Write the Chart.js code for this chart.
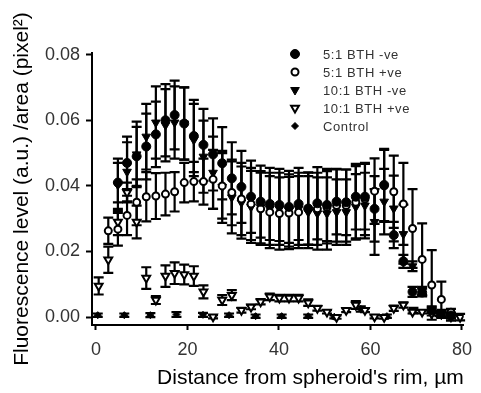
<!DOCTYPE html>
<html>
<head>
<meta charset="utf-8">
<script src="https://cdn.jsdelivr.net/npm/chart.js@4.4.1/dist/chart.umd.min.js"></script>
<style>
html, body { margin: 0; padding: 0; background: #fff; }
</style>
</head>
<body>
<canvas id="chart" width="481" height="393"></canvas>
<script>
// distance from the rim (µm) of the measured bins
const distance = [0.6, 2.7, 4.8, 6.8, 8.9, 11.0, 13.1, 15.2, 17.2, 19.3, 21.4, 23.5, 25.6, 27.6, 29.7, 31.8, 33.9, 36.0, 38.0, 40.1,
  42.2, 44.3, 46.4, 48.4, 50.5, 52.6, 54.7, 56.8, 58.8, 60.9, 63.0, 65.1, 67.2, 69.2, 71.3, 73.4, 75.5, 77.6, 79.6];

const bth5neg = [null, null, 0.041, 0.047, 0.049, 0.052, 0.0557, 0.060, 0.0616, 0.059, 0.0552, 0.0525, 0.0496, 0.0469, 0.0423, 0.0397, 0.0367, 0.0352, 0.0345, 0.0342,
  0.0336, 0.0345, 0.0331, 0.0347, 0.0342, 0.0352, 0.035, 0.0367, 0.0367, 0.033, 0.0403, 0.025, 0.017, 0.0077, 0.0075, 0.002, 0.001, 0.0005, null];
const bth5negErr = [null, null, 0.006, 0.008, 0.009, 0.010, 0.010, 0.011, 0.0105, 0.011, 0.011, 0.011, 0.011, 0.011, 0.011, 0.011, 0.011, 0.011, 0.011, 0.011,
  0.011, 0.011, 0.011, 0.011, 0.011, 0.010, 0.010, 0.010, 0.010, 0.010, 0.011, 0.004, 0.002, 0.0015, 0.0012, 0.0008, 0.0008, 0.0008, null];

const bth5pos = [null, 0.0263, 0.0268, 0.031, 0.035, 0.0367, 0.0369, 0.0375, 0.0382, 0.041, 0.0413, 0.0413, 0.042, 0.040, 0.038, 0.036, 0.0345, 0.033, 0.032, 0.0316,
  0.0317, 0.032, 0.033, 0.033, 0.0335, 0.034, 0.034, 0.035, 0.036, 0.0384, 0.040, 0.0382, 0.0345, 0.027, 0.0176, 0.0098, 0.0054, 0.0015, null];
const bth5posErr = [null, 0.004, 0.005, 0.006, 0.007, 0.0075, 0.007, 0.0065, 0.006, 0.006, 0.006, 0.007, 0.009, 0.010, 0.010, 0.011, 0.011, 0.011, 0.011, 0.011,
  0.011, 0.011, 0.011, 0.011, 0.011, 0.011, 0.011, 0.011, 0.011, 0.010, 0.011, 0.011, 0.0125, 0.012, 0.011, 0.0106, 0.0054, 0.001, null];

const bth10neg = [null, null, 0.0403, 0.0443, 0.0496, 0.055, 0.0593, 0.0585, 0.0593, 0.059, 0.054, 0.0489, 0.044, 0.0397, 0.0365, 0.0349, 0.0336, 0.0335, 0.033, 0.033,
  0.0325, 0.033, 0.032, 0.0316, 0.0316, 0.032, 0.032, 0.0336, 0.034, 0.029, 0.0352, 0.0331, 0.0253, 0.0155, 0.008, 0.0025, 0.0008, 0.0003, null];
const bth10negErr = [null, null, 0.008, 0.009, 0.010, 0.010, 0.011, 0.011, 0.011, 0.011, 0.011, 0.011, 0.011, 0.011, 0.011, 0.011, 0.011, 0.011, 0.011, 0.011,
  0.011, 0.011, 0.011, 0.011, 0.011, 0.010, 0.010, 0.010, 0.010, 0.010, 0.010, 0.010, 0.009, 0.0015, 0.0012, 0.0008, 0.0008, 0.0008, null];

const bth10pos = [0.0095, 0.0175, 0.029, 0.038, 0.029, 0.0119, 0.0052, 0.0125, 0.0134, 0.013, 0.0125, 0.0077, 0.0001, 0.0052, 0.0067, 0.0021, 0.0031, 0.0047, 0.0062, 0.0058,
  0.0058, 0.0058, 0.0044, 0.0027, 0.0016, 0.0, 0.0021, 0.0037, 0.0021, 0.0001, 0.0, 0.0027, 0.0037, 0.0016, 0.0016, 0.001, 0.001, 0.0001, 0.0];
const bth10posErr = [0.0026, 0.004, 0.004, 0.003, 0.005, 0.0033, 0.0012, 0.0033, 0.0033, 0.003, 0.003, 0.002, 0.0005, 0.0015, 0.0015, 0.0007, 0.0007, 0.0008, 0.001, 0.001,
  0.001, 0.001, 0.001, 0.0007, 0.0005, 0.0005, 0.0006, 0.0012, 0.0006, 0.0005, 0.0005, 0.0008, 0.0008, 0.0005, 0.0005, 0.0005, 0.0012, 0.0012, 0.001];

const controlX = [0.4, 6.2, 11.9, 17.6, 23.4, 29.1, 34.9, 40.6, 46.4, 52.1, 57.9, 63.6, 69.4, 75.1];
const control = [0.0006, 0.0006, 0.0006, 0.0008, 0.0007, 0.0006, 0.0003, 0.0003, 0.0003, 0.0001, 0.0025, 0.0003, 0.002, 0.0008];
const controlErr = [0.0005, 0.0005, 0.0006, 0.0007, 0.0006, 0.0005, 0.0005, 0.0005, 0.0005, 0.0005, 0.0008, 0.0005, 0.0008, 0.0005];

const xTicks = [0, 20, 40, 60, 80];
const yTicks = [0, 0.02, 0.04, 0.06, 0.08];

function points(xs, ys, errs) {
  const out = [];
  for (let i = 0; i < xs.length; i++) {
    if (ys[i] == null) continue;
    out.push({ x: xs[i], y: ys[i], err: errs[i] });
  }
  return out;
}

// vertical error bars with caps, drawn under the markers
const errorBars = {
  id: "errorBars",
  beforeDatasetsDraw(chart) {
    const ctx = chart.ctx;
    const x = chart.scales.x;
    const y = chart.scales.y;
    ctx.save();
    ctx.strokeStyle = "#000";
    ctx.lineWidth = 2.2;
    chart.data.datasets.forEach(function (ds) {
      ds.data.forEach(function (p) {
        if (!p.err) return;
        const px = x.getPixelForValue(p.x);
        const top = y.getPixelForValue(p.y + p.err);
        const bot = y.getPixelForValue(p.y - p.err);
        ctx.beginPath();
        ctx.moveTo(px, top); ctx.lineTo(px, bot);
        ctx.moveTo(px - 5, top); ctx.lineTo(px + 5, top);
        ctx.moveTo(px - 5, bot); ctx.lineTo(px + 5, bot);
        ctx.stroke();
      });
    });
    ctx.restore();
  }
};

// legend inside the plot, top right
const insideLegend = {
  id: "insideLegend",
  afterDraw(chart) {
    const ctx = chart.ctx;
    const left = chart.chartArea.left + 203;
    const top = chart.chartArea.top + 1;
    chart.data.datasets.forEach(function (ds, i) {
      const yy = top + i * 18;
      ctx.save();
      ctx.fillStyle = ds.backgroundColor;
      ctx.strokeStyle = ds.borderColor;
      ctx.lineWidth = ds.borderWidth;
      Chart.helpers.drawPoint(ctx, {
        pointStyle: ds.pointStyle,
        rotation: ds.rotation || 0,
        radius: ds.pointRadius,
        borderWidth: ds.borderWidth
      }, left, yy);
      ctx.restore();
      ctx.save();
      ctx.fillStyle = "#333";
      ctx.font = "13px 'Liberation Sans', Arial, sans-serif";
      ctx.letterSpacing = "0.6px";
      ctx.textBaseline = "middle";
      ctx.fillText(ds.label, left + 28, yy + 1);
      ctx.restore();
    });
  }
};

const ctx = document.getElementById("chart").getContext("2d");

const chart = new Chart(ctx, {
  type: "scatter",
  data: {
    datasets: [
      {
        label: "5:1 BTH -ve",
        data: points(distance, bth5neg, bth5negErr),
        pointStyle: "circle", pointRadius: 4.5,
        backgroundColor: "#000", borderColor: "#000", borderWidth: 1
      },
      {
        label: "5:1 BTH +ve",
        data: points(distance, bth5pos, bth5posErr),
        pointStyle: "circle", pointRadius: 3.5,
        backgroundColor: "#fff", borderColor: "#000", borderWidth: 2
      },
      {
        label: "10:1 BTH -ve",
        data: points(distance, bth10neg, bth10negErr),
        pointStyle: "triangle", rotation: 180, pointRadius: 5,
        backgroundColor: "#000", borderColor: "#000", borderWidth: 1
      },
      {
        label: "10:1 BTH +ve",
        data: points(distance, bth10pos, bth10posErr),
        pointStyle: "triangle", rotation: 180, pointRadius: 4.5,
        backgroundColor: "#fff", borderColor: "#000", borderWidth: 2
      },
      {
        label: "Control",
        data: points(controlX, control, controlErr),
        pointStyle: "rectRot", pointRadius: 3.5,
        backgroundColor: "#000", borderColor: "#000", borderWidth: 1
      }
    ]
  },
  options: {
    responsive: false,
    animation: false,
    devicePixelRatio: 1,
    layout: { padding: { top: 53, right: 11, left: 0, bottom: 0 } },
    plugins: {
      legend: { display: false },
      tooltip: { enabled: false }
    },
    scales: {
      x: {
        type: "linear",
        min: -0.86,
        max: 80.4,
        afterBuildTicks: function (scale) {
          scale.ticks = xTicks.map(function (v) { return { value: v }; });
        },
        afterFit: function (scale) { scale.height = 68; },
        grid: { drawOnChartArea: false, drawTicks: true, tickLength: 5, tickColor: "#000", tickWidth: 2 },
        border: { display: true, color: "#000", width: 2 },
        ticks: {
          color: "#333",
          padding: 9,
          maxRotation: 0,
          font: { family: "'Liberation Sans', Arial, sans-serif", size: 18 },
          callback: function (v) { return v; }
        },
        title: {
          display: true,
          text: "Distance from spheroid's rim, µm",
          align: "end",
          color: "#000",
          padding: { top: 0, bottom: 2 },
          font: { family: "'Liberation Sans', Arial, sans-serif", size: 21 }
        }
      },
      y: {
        type: "linear",
        min: -0.0024,
        max: 0.0805,
        afterBuildTicks: function (scale) {
          scale.ticks = yTicks.map(function (v) { return { value: v }; });
        },
        afterFit: function (scale) { scale.width = 92; },
        grid: { drawOnChartArea: false, drawTicks: true, tickLength: 6, tickColor: "#000", tickWidth: 2 },
        border: { display: true, color: "#000", width: 2 },
        ticks: {
          color: "#333",
          padding: 6,
          font: { family: "'Liberation Sans', Arial, sans-serif", size: 18 },
          callback: function (v) { return Number(v).toFixed(2); }
        },
        title: {
          display: true,
          text: "Fluorescence level (a.u.) /area (pixel²)",
          color: "#000",
          padding: { top: 10, bottom: 0 },
          font: { family: "'Liberation Sans', Arial, sans-serif", size: 21 }
        }
      }
    }
  },
  plugins: [errorBars, insideLegend]
});
</script>
</body>
</html>
